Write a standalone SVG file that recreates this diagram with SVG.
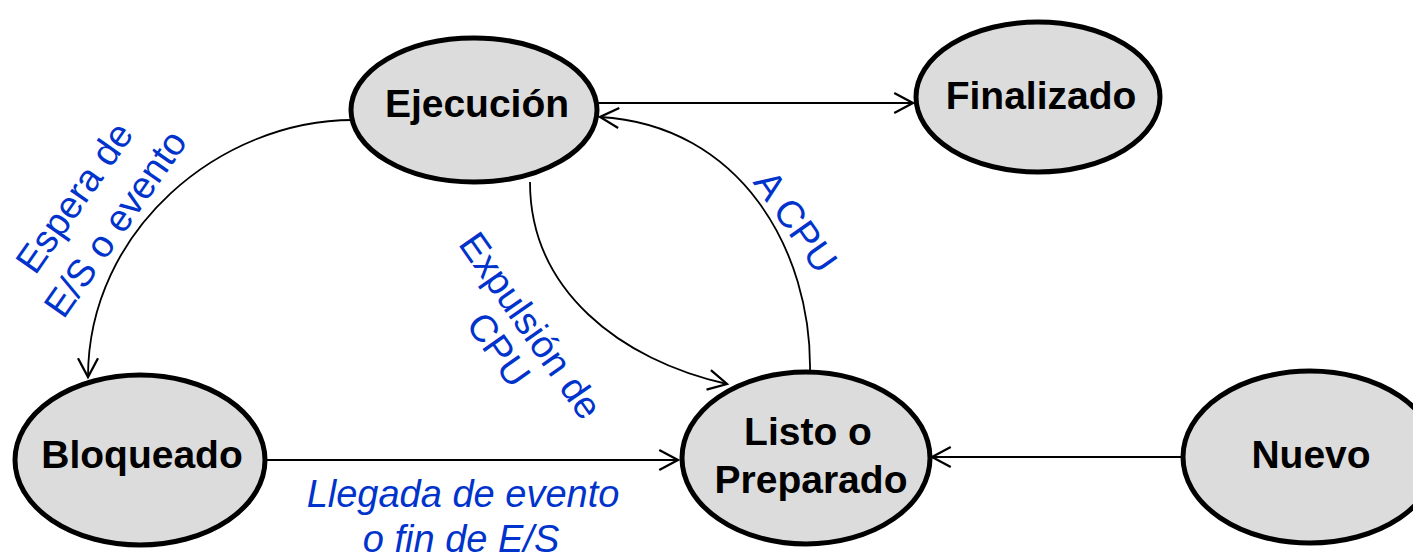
<svg xmlns="http://www.w3.org/2000/svg" width="1413" height="560" viewBox="0 0 1413 560">
<defs>
<style>
.node ellipse{fill:#dcdcdc;stroke:#000;stroke-width:5}
.node text{font-family:"Liberation Sans",Arial,sans-serif;font-weight:bold;font-size:39px;fill:#000;text-anchor:middle}
.conn path{fill:none;stroke:#000;stroke-width:1.8}
.lbl{font-family:"Liberation Sans",Arial,sans-serif;font-size:38px;fill:#0033cc;text-anchor:middle}
.it{font-style:italic}
</style>
<marker id="ah" markerUnits="userSpaceOnUse" markerWidth="30" markerHeight="30" viewBox="-20 -12 24 24" refX="0" refY="0" orient="auto">
<path d="M-15,-8 L0,0 L-15,8" fill="none" stroke="#000" stroke-width="1.8"/>
</marker>
</defs>
<rect width="1413" height="560" fill="#fff"/>
<g id="connectors" class="conn">
<path d="M598,103 L913,103" marker-end="url(#ah)"/>
<path d="M810,372 C812,250 740,125 600,117" marker-end="url(#ah)"/>
<path d="M530,182 C530,290 620,360 727,384" marker-end="url(#ah)"/>
<path d="M353,120 C220,120 88,230 88,377" marker-end="url(#ah)"/>
<path d="M266,460 L678,460" marker-end="url(#ah)"/>
<path d="M1183,457 L932,457" marker-end="url(#ah)"/>
</g>
<g id="labels">
<text class="lbl" transform="translate(85,205) rotate(-55)">Espera de</text>
<text class="lbl" transform="translate(126,231) rotate(-55)">E/S o evento</text>
<text class="lbl" transform="translate(785,229) rotate(55)">A CPU</text>
<text class="lbl" transform="translate(520,333) rotate(55)">Expulsión de</text>
<text class="lbl" transform="translate(488,357) rotate(55)">CPU</text>
<text class="lbl it" x="463" y="507">Llegada de evento</text>
<text class="lbl it" x="461" y="552">o fin de E/S</text>
</g>
<g id="ejecucion" class="node">
<ellipse cx="474" cy="110" rx="123" ry="72"/>
<text x="477" y="117">Ejecución</text>
</g>
<g id="finalizado" class="node">
<ellipse cx="1038" cy="97" rx="122" ry="75"/>
<text x="1041" y="109">Finalizado</text>
</g>
<g id="bloqueado" class="node">
<ellipse cx="140" cy="460" rx="125" ry="85"/>
<text x="142" y="468">Bloqueado</text>
</g>
<g id="listo" class="node">
<ellipse cx="806" cy="458" rx="124" ry="86"/>
<text x="808" y="445">Listo o</text>
<text x="811" y="493">Preparado</text>
</g>
<g id="nuevo" class="node">
<ellipse cx="1310" cy="457" rx="127" ry="86"/>
<text x="1311" y="468">Nuevo</text>
</g>
</svg>
